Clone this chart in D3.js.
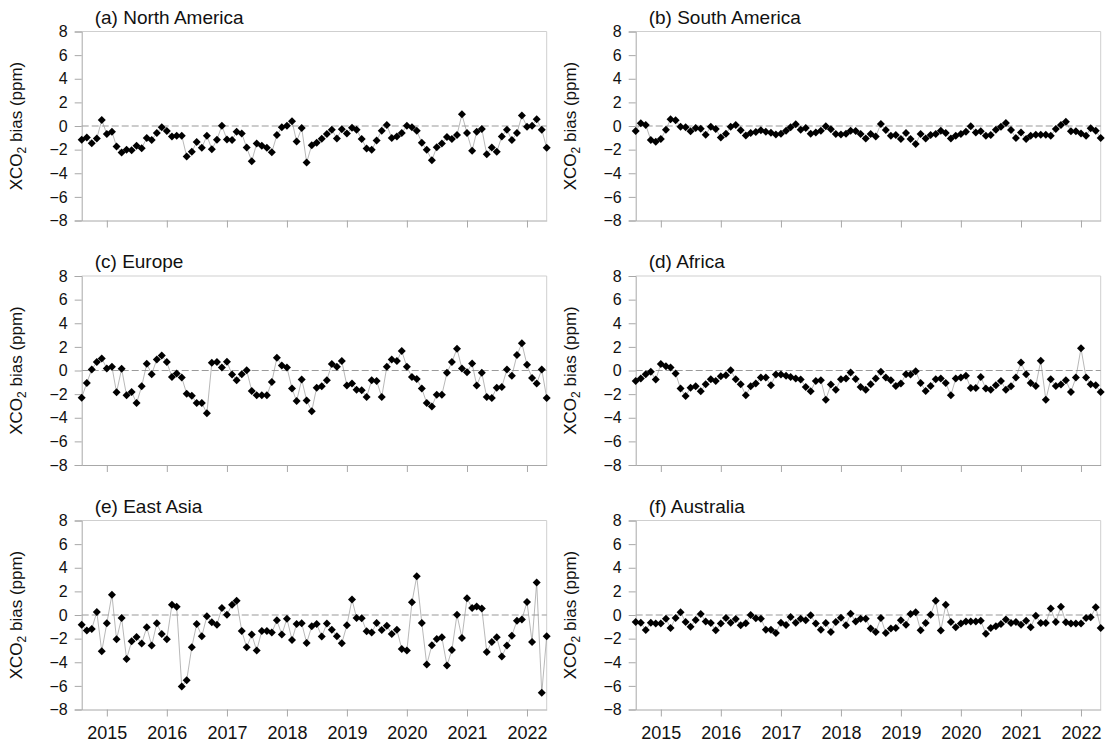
<!DOCTYPE html>
<html><head><meta charset="utf-8">
<script src="https://cdn.jsdelivr.net/npm/d3@7"></script>
<style>
body{margin:0;background:#fff}
svg{display:block}
text{font-family:"Liberation Sans",Arial,Helvetica,sans-serif;fill:#111}
</style>
</head><body>
<svg id="chart" width="1110" height="751"></svg>
<script>
// ---------------- data ----------------
const firstMonth = {year: 2014, month: 7};   // Aug 2014 (0-based month)
const monthCount = 94;
const yTickValues = [8, 6, 4, 2, 0, -2, -4, -6, -8];
const xTickYears = [2015, 2016, 2017, 2018, 2019, 2020, 2021, 2022];
const panelTitles = ["(a) North America", "(b) South America", "(c) Europe", "(d) Africa", "(e) East Asia", "(f) Australia"];

const northAmerica = [-1.16,-0.97,-1.45,-1.05,0.51,-0.68,-0.48,-1.73,-2.24,-2.02,
  -2.05,-1.68,-1.88,-1.02,-1.19,-0.60,-0.11,-0.43,-0.88,-0.82,
  -0.82,-2.59,-2.19,-1.36,-1.85,-0.82,-1.96,-1.16,0.03,-1.14,
  -1.19,-0.48,-0.63,-1.82,-2.98,-1.48,-1.68,-1.85,-2.22,-0.77,
  -0.11,0.03,0.40,-1.31,-0.17,-3.10,-1.62,-1.42,-1.08,-0.68,
  -0.31,-1.05,-0.28,-0.63,-0.14,-0.31,-1.11,-1.90,-2.02,-1.22,
  -0.40,0.09,-1.02,-0.88,-0.60,0.03,-0.11,-0.40,-1.42,-2.02,
  -2.90,-1.79,-1.48,-0.94,-1.11,-0.77,0.99,-0.60,-2.10,-0.48,
  -0.26,-2.39,-1.82,-2.19,-0.88,-0.31,-1.19,-0.60,0.88,-0.06,
  0.03,0.57,-0.31,-1.85];
const southAmerica = [-0.43,0.23,0.09,-1.19,-1.34,-1.11,-0.31,0.57,0.48,-0.06,
  -0.11,-0.45,-0.17,-0.23,-0.74,-0.06,-0.26,-0.97,-0.65,-0.06,
  0.09,-0.37,-0.80,-0.60,-0.51,-0.37,-0.48,-0.57,-0.71,-0.65,
  -0.40,-0.11,0.14,-0.31,-0.17,-0.65,-0.54,-0.40,-0.03,-0.28,
  -0.68,-0.71,-0.65,-0.40,-0.43,-0.68,-1.05,-0.68,-0.88,0.17,
  -0.34,-0.82,-0.77,-1.11,-0.60,-1.11,-1.53,-0.68,-1.05,-0.77,
  -0.68,-0.40,-0.60,-1.05,-0.82,-0.68,-0.48,-0.03,-0.54,-0.45,
  -0.82,-0.77,-0.31,-0.06,0.26,-0.34,-1.02,-0.54,-1.11,-0.82,
  -0.74,-0.74,-0.74,-0.82,-0.26,0.09,0.37,-0.45,-0.45,-0.63,
  -0.82,-0.20,-0.40,-1.02];
const europe = [-2.30,-1.05,0.09,0.71,1.02,0.17,0.31,-1.85,0.14,-2.10,
  -1.82,-2.76,-1.34,0.57,-0.31,0.94,1.28,0.71,-0.54,-0.26,
  -0.60,-1.96,-2.13,-2.76,-2.76,-3.61,0.65,0.71,0.26,0.74,
  -0.34,-0.82,-0.31,0.03,-1.73,-2.10,-2.10,-2.10,-0.97,1.08,
  0.43,0.26,-1.53,-2.59,-0.77,-2.53,-3.44,-1.45,-1.34,-0.82,
  0.54,0.31,0.80,-1.28,-1.11,-1.62,-1.68,-2.24,-0.82,-0.88,
  -2.24,0.31,0.94,0.80,1.65,0.31,-0.54,-0.71,-1.53,-2.76,
  -3.04,-2.05,-2.05,-0.20,0.71,1.85,0.17,-0.14,0.60,-1.28,
  -0.20,-2.24,-2.33,-1.45,-1.39,0.09,-0.45,1.31,2.30,0.48,
  -0.63,-1.11,0.09,-2.33];
const africa = [-0.88,-0.68,-0.31,-0.11,-0.77,0.54,0.37,0.26,-0.26,-1.53,
  -2.16,-1.45,-1.34,-1.76,-1.16,-0.74,-0.88,-0.48,-0.40,0.03,
  -0.74,-1.16,-2.10,-1.34,-1.11,-0.60,-0.60,-1.25,-0.34,-0.34,
  -0.45,-0.54,-0.68,-0.77,-1.39,-1.76,-0.88,-0.82,-2.47,-1.19,
  -1.62,-0.74,-0.68,-0.17,-0.71,-1.39,-1.62,-1.16,-0.68,-0.11,
  -0.60,-0.82,-1.31,-1.11,-0.31,-0.34,-0.06,-1.05,-1.73,-1.31,
  -0.74,-0.68,-1.05,-2.10,-0.68,-0.60,-0.45,-1.48,-1.48,-0.54,
  -1.53,-1.62,-1.25,-0.88,-1.62,-1.34,-0.60,0.68,-0.31,-1.05,
  -1.31,0.82,-2.47,-0.74,-1.31,-1.19,-0.82,-1.82,-0.60,1.88,
  -0.60,-1.16,-1.25,-1.82];
const eastAsia = [-0.82,-1.32,-1.18,0.25,-3.07,-0.70,1.72,-2.06,-0.25,-3.72,
  -2.23,-1.86,-2.42,-1.04,-2.59,-0.70,-1.61,-2.06,0.87,0.70,
  -6.06,-5.52,-2.73,-0.76,-1.80,-0.11,-0.62,-0.82,0.59,0.03,
  0.87,1.21,-1.35,-2.73,-1.66,-3.01,-1.35,-1.35,-1.49,-0.45,
  -1.66,-0.31,-2.11,-0.76,-0.70,-2.37,-0.96,-0.76,-1.83,-0.73,
  -1.24,-1.80,-2.39,-0.87,1.32,-0.25,-0.28,-1.38,-1.49,-0.68,
  -1.27,-0.90,-1.61,-1.24,-2.87,-3.01,1.07,3.27,-0.68,-4.20,
  -2.56,-2.03,-1.89,-4.28,-2.96,0.03,-1.94,1.41,0.59,0.73,
  0.56,-3.13,-2.28,-1.89,-3.52,-2.59,-1.75,-0.48,-0.39,1.10,
  -2.28,2.76,-6.59,-1.80];
const australia = [-0.59,-0.65,-1.27,-0.65,-0.73,-0.73,-0.31,-1.10,-0.25,0.23,
  -0.59,-0.99,-0.42,0.08,-0.54,-0.68,-1.30,-0.73,-0.25,-0.65,
  -0.34,-0.87,-0.70,0.00,-0.28,-0.31,-1.24,-1.24,-1.52,-0.65,
  -0.85,-0.17,-0.65,-0.31,-0.45,-0.03,-0.73,-1.24,-0.68,-1.44,
  -0.59,-0.23,-0.86,0.11,-0.54,-0.31,-0.31,-1.15,-1.44,-0.25,
  -1.52,-1.15,-1.10,-0.45,-0.82,0.08,0.23,-1.30,-0.68,0.03,
  1.21,-1.32,0.87,-0.59,-1.04,-0.73,-0.56,-0.56,-0.56,-0.48,
  -1.58,-1.10,-0.96,-0.76,-0.39,-0.68,-0.59,-0.82,-0.48,-1.04,
  -0.06,-0.68,-0.68,0.54,-0.59,0.70,-0.62,-0.73,-0.73,-0.73,
  -0.25,-0.20,0.65,-1.10];

const seriesList = [northAmerica, southAmerica, europe, africa, eastAsia, australia];

// ---------------- layout ----------------
const colLeft = [81.7, 635.7];
const rowTop = [31.5, 276, 520.5];
const plotW = 465, plotH = 189;

const dates = d3.range(monthCount).map(i => new Date(firstMonth.year, firstMonth.month + i, 1));

const x = d3.scaleTime()
  .domain([dates[0], dates[dates.length - 1]])
  .range([0, plotW]);
const y = d3.scaleLinear().domain([-8, 8]).range([plotH, 0]);

const svg = d3.select("#chart");
const diamond = r => `M0,${-r}L${r},0L0,${r}L${-r},0Z`;

seriesList.forEach((vals, k) => {
  const col = k % 2, row = Math.floor(k / 2);
  const g = svg.append("g").attr("transform", `translate(${colLeft[col]},${rowTop[row]})`);

  // frame (top & right)
  g.append("path")
    .attr("d", `M0,0H${plotW}V${plotH}`)
    .attr("fill", "none").attr("stroke", "#cfcfcf").attr("stroke-width", 1);

  // zero reference line
  g.append("line")
    .attr("x1", 0).attr("x2", plotW)
    .attr("y1", y(0)).attr("y2", y(0))
    .attr("stroke", "#9a9a9a").attr("stroke-width", 1.2)
    .attr("stroke-dasharray", "7,3");

  // y axis
  const yAxis = g.append("g").call(
    d3.axisLeft(y).tickValues(yTickValues).tickSize(7).tickPadding(7).tickFormat(d3.format("d"))
  );
  yAxis.select(".domain").attr("stroke", "#a8a8a8");
  yAxis.selectAll(".tick line").attr("stroke", "#a8a8a8");
  yAxis.selectAll(".tick text").attr("font-size", 16).attr("fill", "#111")
    .attr("font-family", '"Liberation Sans",Arial,sans-serif');

  // x axis
  const xAxis = g.append("g").attr("transform", `translate(0,${plotH})`).call(
    d3.axisBottom(x).tickValues(xTickYears.map(yr => new Date(yr, 0, 1)))
      .tickSize(7).tickPadding(10).tickSizeOuter(0)
      .tickFormat(row === 2 ? d3.timeFormat("%Y") : () => "")
  );
  xAxis.select(".domain").attr("stroke", "#a8a8a8");
  xAxis.selectAll(".tick line").attr("stroke", "#a8a8a8");
  xAxis.selectAll(".tick text").attr("font-size", 18).attr("fill", "#111")
    .attr("font-family", '"Liberation Sans",Arial,sans-serif');

  // connecting line
  g.append("path")
    .datum(vals)
    .attr("fill", "none").attr("stroke", "#888").attr("stroke-width", 0.6)
    .attr("d", d3.line().x((d, i) => x(dates[i])).y(d => y(d)));

  // diamond markers
  g.selectAll("path.pt").data(vals).join("path")
    .attr("class", "pt")
    .attr("d", diamond(4))
    .attr("transform", (d, i) => `translate(${x(dates[i])},${y(d)})`)
    .attr("fill", "#000");

  // panel title
  g.append("text")
    .attr("x", 13).attr("y", -8)
    .attr("font-size", 19)
    .text(panelTitles[k]);

  // y axis title
  const yt = g.append("text")
    .attr("transform", `translate(${-60},${plotH / 2}) rotate(-90)`)
    .attr("text-anchor", "middle")
    .attr("font-size", 17);
  yt.append("tspan").text("XCO");
  yt.append("tspan").attr("font-size", 12).attr("dy", 4).text("2");
  yt.append("tspan").attr("dy", -4).text(" bias (ppm)");
});
</script>
</body></html>
